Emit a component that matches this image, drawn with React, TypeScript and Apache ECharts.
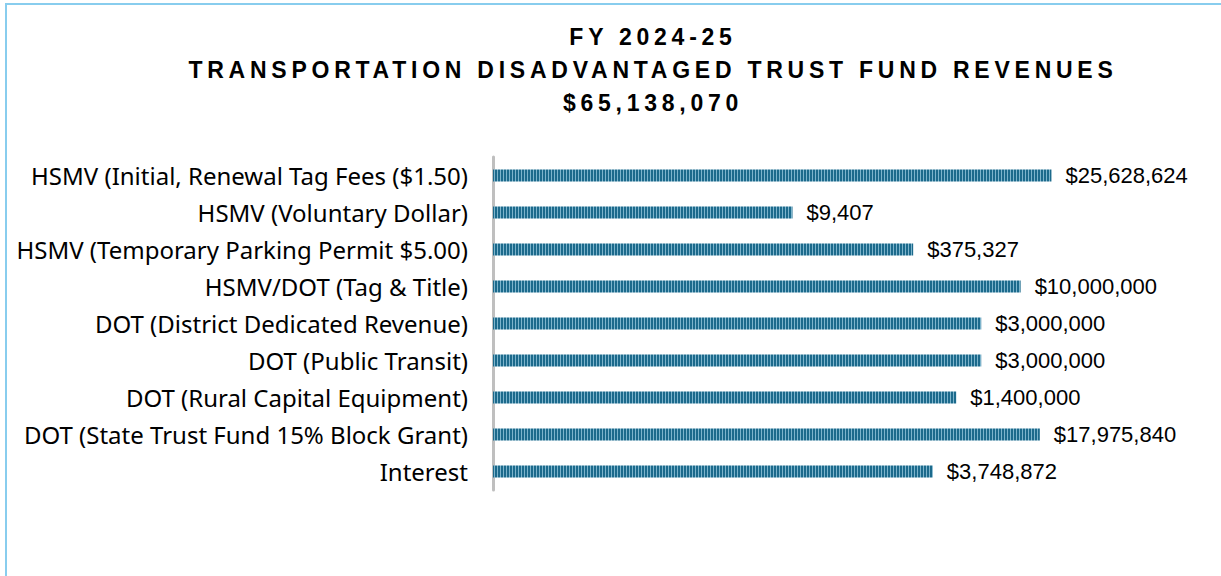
import React, { useEffect, useRef } from "react";
import * as echarts from "echarts";

const titleLines = [
  "FY 2024-25",
  "TRANSPORTATION DISADVANTAGED TRUST FUND REVENUES",
  "$65,138,070",
];

const categories = [
  "HSMV (Initial, Renewal Tag Fees ($1.50)",
  "HSMV (Voluntary Dollar)",
  "HSMV (Temporary Parking Permit $5.00)",
  "HSMV/DOT (Tag & Title)",
  "DOT (District Dedicated Revenue)",
  "DOT (Public Transit)",
  "DOT (Rural Capital Equipment)",
  "DOT (State Trust Fund 15% Block Grant)",
  "Interest",
];

const barValues = [25628624, 9407, 375327, 10000000, 3000000, 3000000, 1400000, 17975840, 685000];

// amounts printed beside the bars
const labelAmounts = [25628624, 9407, 375327, 10000000, 3000000, 3000000, 1400000, 17975840, 3748872];

function makeStripe(): HTMLCanvasElement {
  const c = document.createElement("canvas");
  c.width = 3;
  c.height = 1;
  const ctx = c.getContext("2d")!;
  ctx.fillStyle = "#1c6a8c";
  ctx.fillRect(0, 0, 2, 1);
  ctx.fillStyle = "#7db4cc";
  ctx.fillRect(2, 0, 1, 1);
  return c;
}

export default function App() {
  const ref = useRef<HTMLDivElement>(null);
  useEffect(() => {
    if (!ref.current) return;
    const chart = echarts.init(ref.current, undefined, { renderer: "svg" });
    const stripe = makeStripe();
    chart.setOption({
      animation: false,
      backgroundColor: "#ffffff",
      graphic: [
        {
          type: "rect",
          shape: { x: 6, y: 4, width: 1400, height: 800 },
          style: { fill: "none", stroke: "#88cdee", lineWidth: 2 },
          silent: true,
        },
        ...titleLines.map((t, i) => ({
          type: "text",
          x: 653,
          y: 37 + 33 * i,
          style: {
            text: t,
            fontSize: 23,
            fontWeight: "bold",
            fontFamily: "Liberation Sans, Arial, sans-serif",
            fill: "#000000",
            textAlign: "center",
            textVerticalAlign: "middle",
          },
        })),
      ],
      grid: { left: 493, right: 125, top: 157, bottom: 86, containLabel: false },
      xAxis: {
        type: "log",
        logBase: 10,
        min: 1,
        max: 100000000,
        show: false,
        splitLine: { show: false },
      },
      yAxis: {
        type: "category",
        inverse: true,
        data: categories,
        axisTick: { show: false },
        axisLine: { show: true, lineStyle: { color: "#bfbfbf", width: 3 } },
        axisLabel: {
          margin: 25,
          fontSize: 24,
          color: "#000000",
          fontFamily: "Noto Sans, sans-serif",
        },
      },
      series: [
        {
          type: "bar",
          data: barValues,
          barWidth: 12,
          itemStyle: { color: { image: stripe, repeat: "repeat" } as any },
          label: {
            show: true,
            position: "right",
            distance: 14,
            fontSize: 22,
            color: "#000000",
            fontFamily: "Liberation Sans, Arial, sans-serif",
            formatter: (p: any) => "$" + labelAmounts[p.dataIndex].toLocaleString("en-US"),
          },
        },
      ],
    });
    ref.current.querySelectorAll("text").forEach((t) => {
      if (titleLines.includes((t.textContent || "").trim())) {
        t.setAttribute("letter-spacing", "4.75");
      }
    });
    return () => chart.dispose();
  }, []);
  return (
    <div
      ref={ref}
      style={{ position: "absolute", left: 0, top: 0, width: 1221, height: 576 }}
    />
  );
}
